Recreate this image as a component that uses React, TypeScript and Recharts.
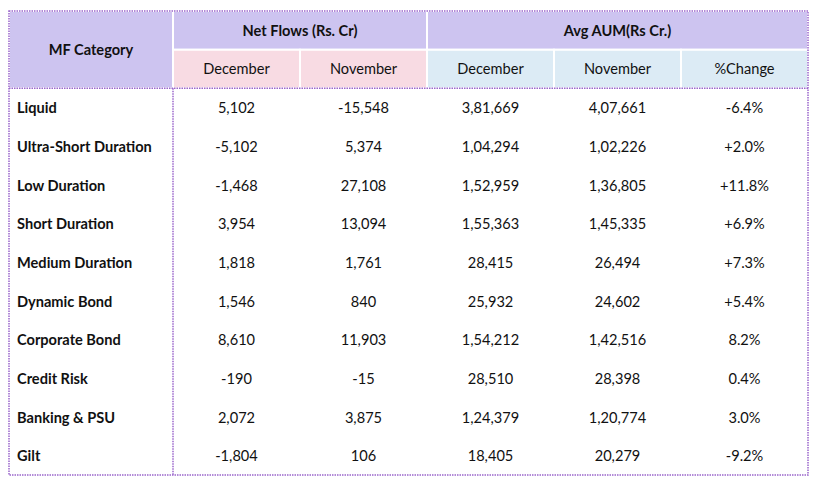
import React from "react";
import { ScatterChart, Scatter, XAxis, YAxis, ReferenceArea, ReferenceLine } from "recharts";

const categories = [
  "Liquid",
  "Ultra-Short Duration",
  "Low Duration",
  "Short Duration",
  "Medium Duration",
  "Dynamic Bond",
  "Corporate Bond",
  "Credit Risk",
  "Banking & PSU",
  "Gilt",
];
const netFlowsDec = [5102, -5102, -1468, 3954, 1818, 1546, 8610, -190, 2072, -1804];
const netFlowsNov = [-15548, 5374, 27108, 13094, 1761, 840, 11903, -15, 3875, 106];
const aumDec = [381669, 104294, 152959, 155363, 28415, 25932, 154212, 28510, 124379, 18405];
const aumNov = [407661, 102226, 136805, 145335, 26494, 24602, 142516, 28398, 120774, 20279];
const pctChange = ["-6.4%", "+2.0%", "+11.8%", "+6.9%", "+7.3%", "+5.4%", "8.2%", "0.4%", "3.0%", "-9.2%"];

const subHeaders = ["December", "November", "December", "November", "%Change"];

// layout
const colWidths = [164, 127, 127, 127, 127, 127];
const colEdges = colWidths.reduce<number[]>((acc, w) => [...acc, acc[acc.length - 1] + w], [0]);
const totalW = colEdges[colEdges.length - 1];
const HEADER_ROWS = 2;
const totalRows = HEADER_ROWS + categories.length;

const FONT = "Lato, 'Noto Sans', sans-serif";
const FS = 14.6;
const PURPLE = "#cdc4f0";
const PINK = "#f8dbe3";
const BLUE = "#dcebf5";
const BORDER = "#9a66cc";

function fmtIN(n: number) {
  const s = Math.abs(n).toString();
  let last3 = s.slice(-3);
  let rest = s.slice(0, -3);
  if (rest) last3 = "," + last3;
  rest = rest.replace(/\B(?=(\d{2})+(?!\d))/g, ",");
  return (n < 0 ? "-" : "") + rest + last3;
}

const columns: string[][] = [
  netFlowsDec.map(fmtIN),
  netFlowsNov.map(fmtIN),
  aumDec.map(fmtIN),
  aumNov.map(fmtIN),
  pctChange,
];

const cellText = (anchor: "start" | "middle", bold: boolean) => (props: any) => (
  <text
    x={props.cx}
    y={props.cy}
    textAnchor={anchor}
    dominantBaseline="central"
    fontFamily={FONT}
    fontSize={FS}
    fontWeight={bold ? 700 : 400}
    fill="#111"
  >
    {props.payload.label}
  </text>
);

const hdrLabel = (value: string, bold: boolean) => ({
  value,
  position: "center" as const,
  fill: "#111",
  fontSize: FS,
  fontWeight: bold ? 700 : 400,
  fontFamily: FONT,
});

export default function App() {
  const catData = categories.map((c, i) => ({ x: colEdges[0] + 8, y: HEADER_ROWS + i + 0.5, label: c }));
  const colData = columns.map((vals, ci) =>
    vals.map((v, i) => ({
      x: (colEdges[ci + 1] + colEdges[ci + 2]) / 2,
      y: HEADER_ROWS + i + 0.5,
      label: v,
    }))
  );

  return (
    <div style={{ fontFamily: FONT }}>
      <ScatterChart width={810} height={475} margin={{ top: 3, right: 10, bottom: 8, left: 1 }}>
        <XAxis type="number" dataKey="x" domain={[0, totalW]} hide />
        <YAxis type="number" dataKey="y" domain={[0, totalRows]} reversed hide />

        <ReferenceArea x1={0} x2={colEdges[1]} y1={0} y2={2} fill={PURPLE} fillOpacity={1} stroke="#fff" strokeWidth={2} label={hdrLabel("MF Category", true)} />
        <ReferenceArea x1={colEdges[1]} x2={colEdges[3]} y1={0} y2={1} fill={PURPLE} fillOpacity={1} stroke="#fff" strokeWidth={2} label={hdrLabel("Net Flows (Rs. Cr)", true)} />
        <ReferenceArea x1={colEdges[3]} x2={colEdges[6]} y1={0} y2={1} fill={PURPLE} fillOpacity={1} stroke="#fff" strokeWidth={2} label={hdrLabel("Avg AUM(Rs Cr.)", true)} />
        {subHeaders.map((h, i) => (
          <ReferenceArea
            key={"sh" + i}
            x1={colEdges[i + 1]}
            x2={colEdges[i + 2]}
            y1={1}
            y2={2}
            fill={i < 2 ? PINK : BLUE}
            fillOpacity={1}
            stroke="#fff"
            strokeWidth={2}
            label={hdrLabel(h, false)}
          />
        ))}

        <ReferenceLine segment={[{ x: 0, y: 2 }, { x: totalW, y: 2 }]} stroke={BORDER} strokeWidth={1.5} strokeDasharray="1.5 1" />
        <ReferenceLine segment={[{ x: colEdges[1], y: 2 }, { x: colEdges[1], y: totalRows }]} stroke={BORDER} strokeWidth={1.5} strokeDasharray="1.5 1" />
        <ReferenceArea x1={0} x2={totalW} y1={0} y2={totalRows} fill="none" stroke={BORDER} strokeWidth={1.5} strokeDasharray="1.5 1" />

        <Scatter data={catData} shape={cellText("start", true)} isAnimationActive={false} />
        {colData.map((d, i) => (
          <Scatter key={"c" + i} data={d} shape={cellText("middle", false)} isAnimationActive={false} />
        ))}
      </ScatterChart>
    </div>
  );
}
